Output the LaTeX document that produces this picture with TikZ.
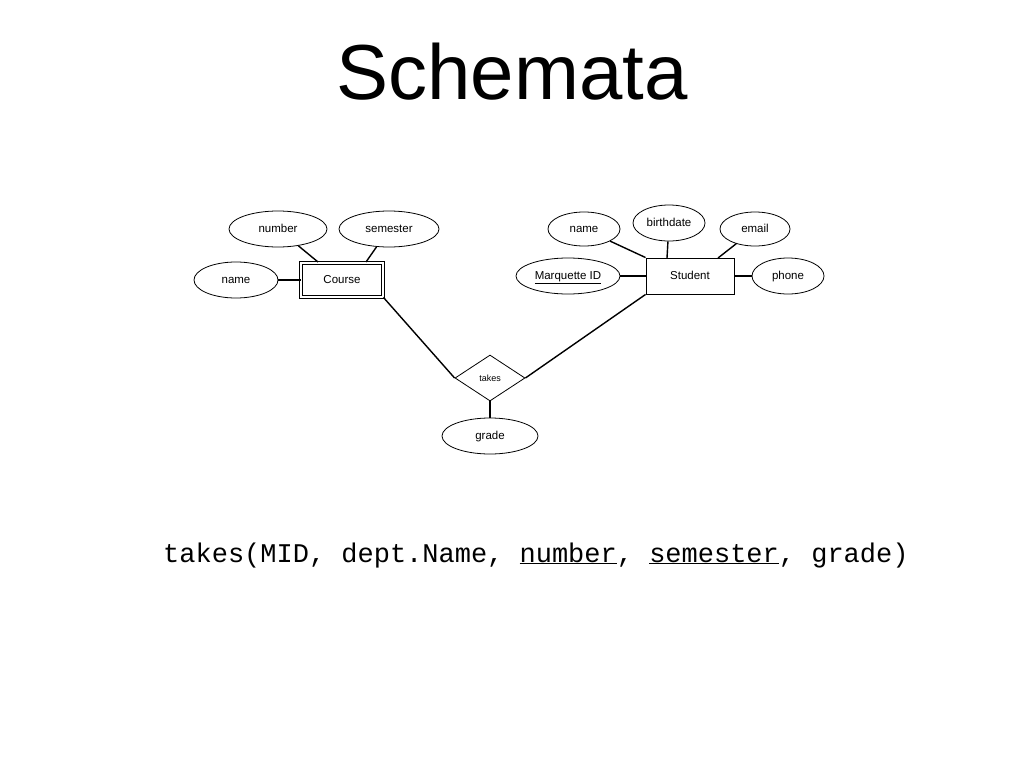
\documentclass[tikz,border=0pt]{standalone}
\usepackage{fontspec}
\setmainfont{Liberation Sans}
\newfontfamily\monof{Liberation Mono}
\usetikzlibrary{shapes.geometric}
\begin{document}
\begin{tikzpicture}[x=1pt,y=-1pt,
  attr/.style={ellipse,draw,line width=0.8pt,minimum height=36pt,font=\fontsize{11.5}{12}\selectfont,inner sep=0pt,text height=8.5pt,text depth=2.5pt},
  ent/.style={rectangle,draw,line width=0.9pt,minimum width=#1,minimum height=36pt,font=\fontsize{11.5}{12}\selectfont,text height=8.5pt,text depth=2.5pt},
  lnk/.style={line width=1.4pt}]
\useasboundingbox (0,0) rectangle (1024,768);
\node (title) at (512,72) {\fontsize{78}{80}\selectfont Schemata};
\node[attr,minimum width=98pt] (cnum) at (278,229) {number};
\node[attr,minimum width=100pt] (csem) at (389,229) {semester};
\node[attr,minimum width=84pt] (cname) at (236,280) {name};
\node[ent=82pt,minimum height=34pt,double,double distance=2pt] (course) at (342,280) {Course};
\node[attr,minimum width=72pt,minimum height=34pt] (sname) at (584,229) {name};
\node[attr,minimum width=72pt] (sbd) at (669,223) {birthdate};
\node[attr,minimum width=70pt,minimum height=34pt] (semail) at (755,229) {email};
\node[attr,minimum width=104pt] (sid) at (568,276) {\underline{Marquette ID}};
\node[ent=88pt] (student) at (690,276) {Student};
\node[attr,minimum width=72pt] (sphone) at (788,276) {phone};
\node[diamond,draw,line width=0.8pt,minimum width=70pt,minimum height=46pt,inner sep=0pt,font=\fontsize{9}{10}\selectfont] (takes) at (490,378) {takes};
\node[attr,minimum width=96pt] (grade) at (490,436) {grade};
\draw[lnk] (318,262) -- (cnum);
\draw[lnk] (csem) -- (366,262);
\draw[lnk] (cname) -- (course);
\draw[lnk] (course.south east) -- (takes.west);
\draw[lnk] (sname) -- (student.north west);
\draw[lnk] (sbd) -- (667,258);
\draw[lnk] (semail) -- (718,258);
\draw[lnk] (sid) -- (student);
\draw[lnk] (student) -- (sphone);
\draw[lnk] (student.south west) -- (takes.east);
\draw[lnk] (takes) -- (grade);
\node[anchor=base west,font=\monof\fontsize{27}{28}\selectfont,inner sep=0pt] (rel) at (163,562) {takes(MID, dept.Name, \underline{number}, \underline{semester}, grade)};
\end{tikzpicture}
\end{document}
